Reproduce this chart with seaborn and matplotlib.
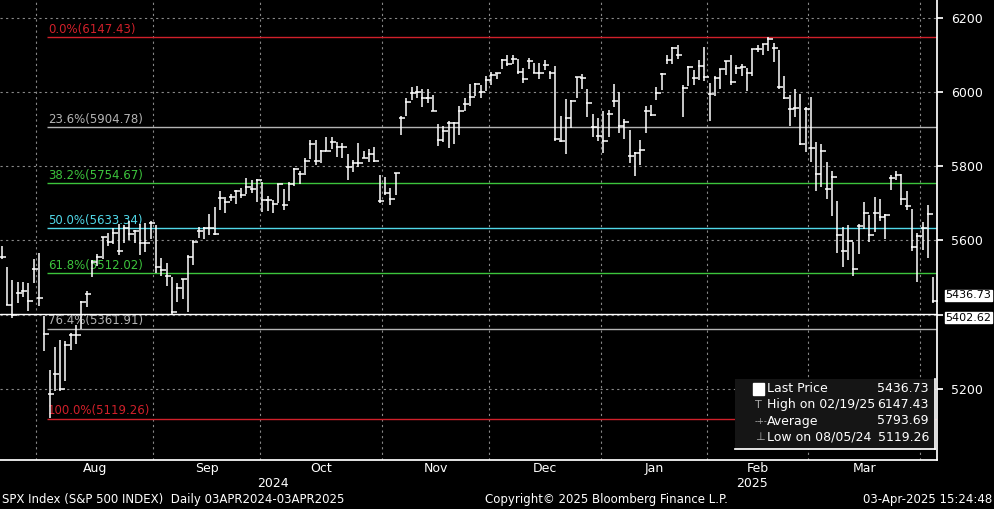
import numpy as np
import pandas as pd
import matplotlib
matplotlib.use("Agg")
import matplotlib.pyplot as plt
import seaborn as sns

# ── DATA (SPX daily bars, read approx. from chart) ─────────────────
dates = (
    ["2024-07-%02d" % d for d in [23, 24, 25, 26, 29, 30, 31]]
    + ["2024-08-%02d" % d for d in [1, 2, 5, 6, 7, 8, 9, 12, 13, 14, 15, 16, 19, 20, 21, 22, 23, 26, 27, 28, 29, 30]]
    + ["2024-09-%02d" % d for d in [3, 4, 5, 6, 9, 10, 11, 12, 13, 16, 17, 18, 19, 20, 23, 24, 25, 26, 27, 30]]
    + ["2024-10-%02d" % d for d in [1, 2, 3, 4, 7, 8, 9, 10, 11, 14, 15, 16, 17, 18, 21, 22, 23, 24, 25, 28, 29, 30, 31]]
    + ["2024-11-%02d" % d for d in [1, 4, 5, 6, 7, 8, 11, 12, 13, 14, 15, 18, 19, 20, 21, 22, 25, 26, 27, 29]]
    + ["2024-12-%02d" % d for d in [2, 3, 4, 5, 6, 9, 10, 11, 12, 13, 16, 17, 18, 19, 20, 23, 24, 26, 27, 30, 31]]
    + ["2025-01-%02d" % d for d in [2, 3, 6, 7, 8, 10, 13, 14, 15, 16, 17, 21, 22, 23, 24, 27, 28, 29, 30, 31]]
    + ["2025-02-%02d" % d for d in [3, 4, 5, 6, 7, 10, 11, 12, 13, 14, 18, 19, 20, 21, 24, 25, 26, 27, 28]]
    + ["2025-03-%02d" % d for d in [3, 4, 5, 6, 7, 10, 11, 12, 13, 14, 17, 18, 19, 20, 21, 24, 25, 26, 27, 28, 31]]
    + ["2025-04-%02d" % d for d in [1, 2, 3]]
)
close = [5555, 5427, 5399, 5459, 5464, 5436, 5522,
         5446, 5347, 5186, 5240, 5199, 5319, 5344, 5344, 5434, 5455, 5543, 5554, 5608, 5597, 5621, 5571, 5634, 5616, 5626, 5592, 5592, 5648,
         5529, 5520, 5503, 5408, 5471, 5496, 5554, 5596, 5626, 5633, 5634, 5618, 5714, 5703, 5718, 5732, 5722, 5745, 5738, 5762,
         5709, 5709, 5699, 5751, 5696, 5751, 5792, 5780, 5815, 5859, 5815, 5842, 5841, 5865, 5853, 5851, 5797, 5809, 5808, 5823, 5832, 5813, 5705,
         5729, 5712, 5782, 5929, 5973, 5996, 6001, 5984, 5985, 5950, 5871, 5894, 5917, 5917, 5949, 5969, 5987, 6021, 5999, 6032,
         6047, 6050, 6087, 6075, 6090, 6053, 6034, 6084, 6051, 6051, 6074, 6050, 5872, 5867, 5931, 5975, 6040, 6038, 5971, 5907, 5882,
         5869, 5942, 5975, 5909, 5918, 5827, 5836, 5843, 5950, 5937, 5997, 6049, 6086, 6119, 6101, 6012, 6067, 6039, 6071, 6041,
         5994, 6038, 6061, 6084, 6026, 6066, 6068, 6052, 6115, 6115, 6129, 6144, 6118, 6013, 5983, 5955, 5956, 5861, 5955,
         5850, 5778, 5842, 5739, 5770, 5615, 5572, 5599, 5522, 5639, 5675, 5615, 5675, 5663, 5668, 5768, 5777, 5712, 5693, 5581, 5612,
         5633, 5671, 5437]
high = [5586, 5527, 5492, 5488, 5487, 5486, 5551,
        5566, 5396, 5250, 5312, 5331, 5328, 5351, 5372, 5436, 5464, 5546, 5564, 5608, 5620, 5633, 5643, 5642, 5651, 5629, 5645, 5646, 5651,
        5641, 5552, 5540, 5502, 5484, 5497, 5561, 5600, 5636, 5637, 5671, 5690, 5733, 5716, 5725, 5735, 5741, 5767, 5763, 5765,
        5757, 5720, 5708, 5753, 5739, 5757, 5796, 5786, 5822, 5871, 5870, 5843, 5879, 5878, 5866, 5863, 5834, 5817, 5862, 5842, 5847, 5851, 5775,
        5772, 5741, 5783, 5936, 5983, 6013, 6017, 6009, 6009, 5993, 5915, 5908, 5923, 5920, 5963, 5984, 6021, 6025, 6020, 6044,
        6054, 6052, 6089, 6099, 6100, 6089, 6066, 6093, 6079, 6079, 6085, 6057, 6070, 5935, 5982, 5979, 6041, 6049, 6007, 5941, 5930,
        5949, 5951, 6022, 6000, 5927, 5898, 5838, 5871, 5961, 5964, 6014, 6051, 6101, 6121, 6128, 6018, 6069, 6060, 6086, 6120,
        6023, 6042, 6062, 6084, 6101, 6073, 6076, 6064, 6116, 6127, 6129, 6147, 6132, 6114, 6044, 5992, 6009, 5994, 5959,
        5987, 5866, 5860, 5812, 5786, 5705, 5636, 5642, 5597, 5645, 5703, 5668, 5716, 5711, 5670, 5775, 5786, 5780, 5732, 5685, 5621,
        5650, 5695, 5501]
low = [5550, 5426, 5390, 5430, 5447, 5409, 5486,
       5424, 5303, 5120, 5194, 5195, 5221, 5304, 5322, 5361, 5421, 5502, 5531, 5551, 5585, 5591, 5561, 5594, 5602, 5594, 5561, 5570, 5605,
       5512, 5503, 5478, 5402, 5434, 5441, 5407, 5535, 5606, 5604, 5614, 5615, 5683, 5674, 5705, 5699, 5713, 5725, 5727, 5703,
       5677, 5678, 5675, 5702, 5683, 5706, 5746, 5751, 5775, 5819, 5804, 5809, 5840, 5846, 5824, 5822, 5762, 5784, 5799, 5823, 5812, 5811, 5702,
       5723, 5696, 5722, 5883, 5935, 5978, 5985, 5960, 5970, 5949, 5854, 5865, 5850, 5860, 5885, 5948, 5963, 5990, 5984, 6003,
       6020, 6034, 6061, 6069, 6076, 6048, 6024, 6061, 6051, 6034, 6059, 6035, 5867, 5866, 5832, 5902, 5983, 6007, 5932, 5880, 5869,
       5835, 5880, 5960, 5890, 5874, 5809, 5773, 5804, 5890, 5935, 5978, 6006, 6075, 6076, 6088, 5932, 6017, 6020, 6033, 6030,
       5923, 5990, 6008, 6046, 6020, 6049, 6042, 6003, 6043, 6107, 6099, 6111, 6081, 6009, 5980, 5908, 5932, 5858, 5837,
       5810, 5732, 5743, 5712, 5667, 5565, 5529, 5546, 5505, 5563, 5631, 5597, 5622, 5651, 5603, 5735, 5764, 5695, 5683, 5572, 5489,
       5573, 5552, 5431]

fib_pct = ["0.0%", "23.6%", "38.2%", "50.0%", "61.8%", "76.4%", "100.0%"]
fib_val = [6147.43, 5904.78, 5754.67, 5633.34, 5512.02, 5361.91, 5119.26]
fib_col = ["#d0202a", "#b4b4b4", "#3cc43c", "#50d8e8", "#3cc43c", "#b4b4b4", "#d0202a"]
last_price = 5436.73
range_low = 5402.62
yticks = [5200, 5400, 5600, 5800, 6000, 6200]
ytick_labels = ["5200", "", "5600", "5800", "6000", "6200"]  # 5400 hidden behind price box

df = pd.DataFrame({"date": pd.to_datetime(dates), "high": high, "low": low, "close": close})
df["x"] = np.arange(len(df))

# ── FIGURE ─────────────────────────────────────────────────────────
sns.set_theme(style="dark")
plt.rcParams["font.family"] = ["DejaVu Sans"]
fig = plt.figure(figsize=(9.94, 5.09), dpi=100, facecolor="black")
ax = fig.add_axes([0, 1 - 460 / 509, 937 / 994, 460 / 509])
ax.set_facecolor("black")
ax.set_xlim(-0.3, len(df) - 0.3)
ax.set_ylim(5008, 6248)

# month boundaries
mstart = df.groupby(df["date"].dt.to_period("M"))["x"].min()
for xb in mstart.values[1:]:
    ax.axvline(xb - 0.5, color="#888888", ls=(0, (2, 3)), lw=0.8, zorder=0)
for yv in yticks:
    ax.axhline(yv, color="#888888", ls=(0, (2, 3)), lw=0.8, zorder=0)

# fib levels
x0 = df.index[df["date"] == "2024-08-05"][0]
for p, v, c in zip(fib_pct, fib_val, fib_col):
    ax.hlines(v, x0 - 0.5, len(df), color=c, lw=1.0, zorder=1)
    ax.text(x0 - 0.3, v + 4, "%s(%.2f)" % (p, v), color=c, fontsize=8.5, va="bottom", ha="left", zorder=1)
ax.axhline(range_low, color="white", lw=1.0, zorder=1)

# OHLC-style bars
ax.vlines(df["x"], df["low"], df["high"], color="white", lw=1.1, zorder=3)
sns.scatterplot(x=df["x"] + 0.3, y=df["close"], marker="_", s=14, color="white",
                linewidth=1.1, ax=ax, legend=False, zorder=3)

for s in ax.spines.values():
    s.set_visible(False)
ax.spines["right"].set_visible(True)
ax.spines["right"].set_color("white")
ax.spines["bottom"].set_visible(True)
ax.spines["bottom"].set_color("white")
ax.yaxis.tick_right()
ax.set_yticks(yticks)
ax.set_yticklabels(ytick_labels, color="white", fontsize=9)
ax.tick_params(axis="y", colors="white", length=4, direction="out", pad=6)
ax.set_xticks(mstart.values[1:] - 0.5)
ax.set_xticklabels([])
ax.tick_params(axis="x", colors="white", length=4, direction="inout")
ax.set_xlabel("")
ax.set_ylabel("")
ax.grid(False)

# month / year labels
mlabels = ["Aug", "Sep", "Oct", "Nov", "Dec", "Jan", "Feb", "Mar"]
bounds = list(mstart.values[1:]) + [len(df) - 3]
for i, lab in enumerate(mlabels):
    xc = (bounds[i] + bounds[i + 1]) / 2 - 0.5
    ax.text(xc, -0.004, lab, transform=ax.get_xaxis_transform(), color="white",
            fontsize=9, ha="center", va="top")
ax.text(51, -0.038, "2024", transform=ax.get_xaxis_transform(), color="white", fontsize=9, ha="center", va="top")
ax.text(141, -0.038, "2025", transform=ax.get_xaxis_transform(), color="white", fontsize=9, ha="center", va="top")

# right price boxes
for v, dy in [(last_price, 4), (range_low, -3)]:
    ax.annotate("%.2f" % v, xy=(1, v), xycoords=("axes fraction", "data"), xytext=(6, dy),
                textcoords="offset points", va="center", ha="left", fontsize=8, color="black",
                bbox=dict(boxstyle="square,pad=0.05", fc="white", ec="white"), annotation_clip=False)

# legend box
lg = fig.add_axes([735 / 994, 1 - 449 / 509, 200 / 994, 70 / 509])
lg.set_facecolor("#151515")
lg.set_xticks([]); lg.set_yticks([])
for s in lg.spines.values():
    s.set_visible(False)
lg.spines["right"].set_visible(True); lg.spines["bottom"].set_visible(True)
lg.spines["right"].set_color("white"); lg.spines["bottom"].set_color("white")
rows = [("Last Price", "5436.73"), ("High on 02/19/25", "6147.43"),
        ("Average", "5793.69"), ("Low on 08/05/24", "5119.26")]
lg.add_patch(plt.Rectangle((0.09, 0.77), 0.055, 0.17, color="white", transform=lg.transAxes))
for i, (a, b) in enumerate(rows):
    yy = 0.86 - i * 0.23
    lg.text(0.16, yy, a, color="white", fontsize=9, va="center", transform=lg.transAxes)
    lg.text(0.97, yy, b, color="white", fontsize=9, va="center", ha="right", transform=lg.transAxes)
lg.text(0.1, 0.63, "T", color="#aaaaaa", fontsize=8, va="center", transform=lg.transAxes)
lg.text(0.1, 0.40, "-+-", color="#aaaaaa", fontsize=6, va="center", transform=lg.transAxes)
lg.text(0.1, 0.17, "⊥", color="#aaaaaa", fontsize=8, va="center", transform=lg.transAxes)

# footer
fig.text(2 / 994, 1 - 500 / 509, "SPX Index (S&P 500 INDEX)  Daily 03APR2024-03APR2025", color="white", fontsize=8.5, va="center")
fig.text(485 / 994, 1 - 500 / 509, "Copyright© 2025 Bloomberg Finance L.P.", color="white", fontsize=8.5, va="center")
fig.text(992 / 994, 1 - 500 / 509, "03-Apr-2025 15:24:48", color="white", fontsize=8.5, va="center", ha="right")

fig.savefig("out.png", dpi=100, facecolor="black")
